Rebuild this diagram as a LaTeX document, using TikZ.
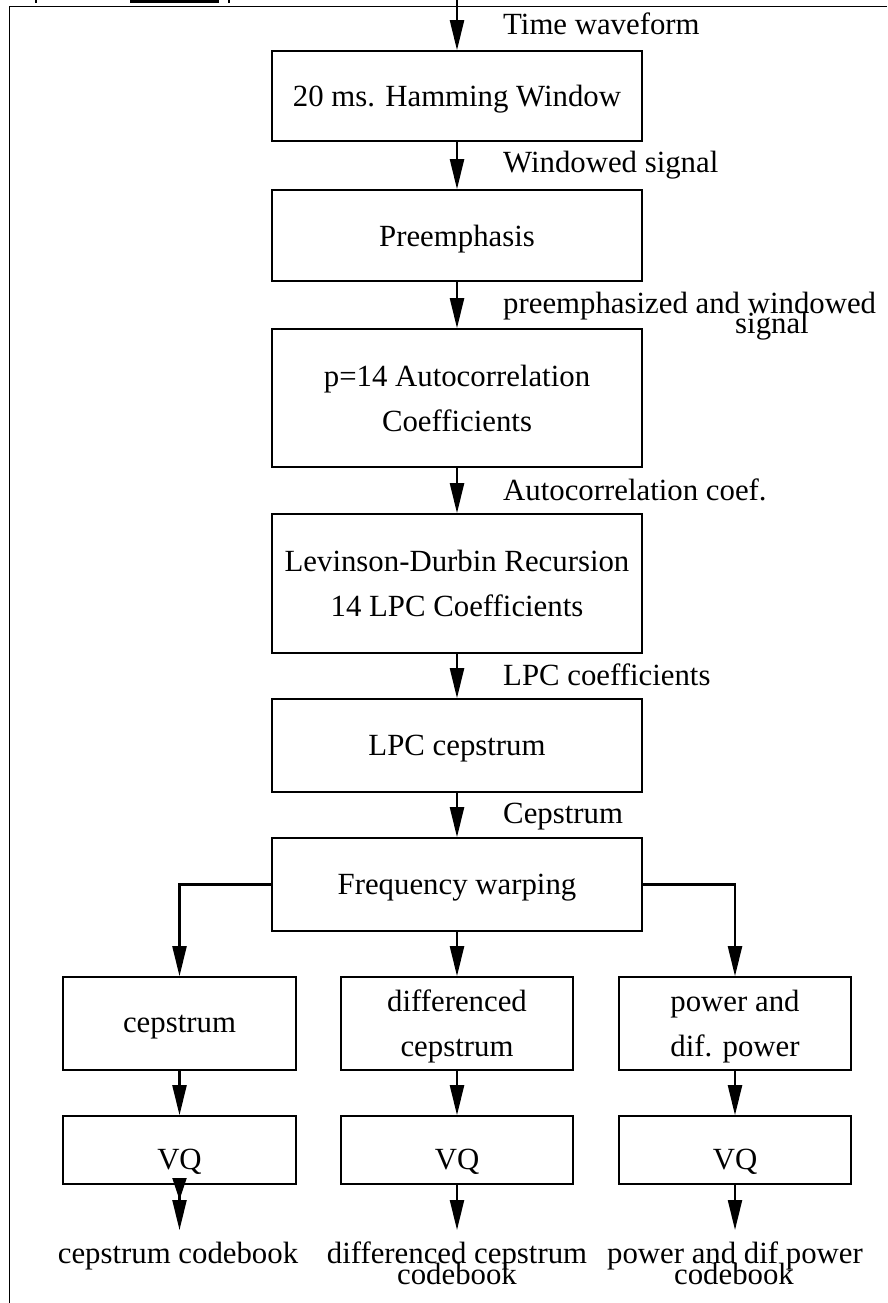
\documentclass[tikz,border=0pt]{standalone}
\usepackage{fontspec}
\setmainfont{Liberation Serif}
\usetikzlibrary{arrows.meta}

\tikzset{
  base font/.style={font=\fontsize{30.8}{45}\selectfont},
  stage/.style={draw, line width=1.6pt, inner sep=0pt, align=center,
                base font, text depth=0pt, minimum width=370pt},
  subbox/.style={draw, line width=1.6pt, inner sep=0pt, align=center,
                 base font, text depth=0pt, minimum width=232pt},
  lbl/.style={inner sep=0pt, base font},
  flow/.style={line width=2.2pt, -{Triangle[length=30pt,width=14pt]}},
  dflow/.style={line width=2.2pt,
    -{Triangle[length=22pt,width=14pt,sep=0pt]Triangle[length=30pt,width=14pt]}},
  frame/.style={line width=1.6pt}
}

\begin{document}
\begin{tikzpicture}[x=1pt,y=-1pt]
\useasboundingbox (0,0) rectangle (887,1303);

% page frame and header marks
\draw[frame] (887,6.5) -- (9.5,6.5) -- (9.5,1303);
\fill (130,0) rectangle (219,3);
\draw[line width=1.4pt] (36,0) -- (36,3) (229,0) -- (229,3);

% main chain
\node[stage, minimum height=90pt] (b1) at (457,96)    {20 ms. Hamming Window};
\node[stage, minimum height=91pt] (b2) at (457,235.5) {Preemphasis};
\node[stage, minimum height=138pt] (b3) at (457,398)  {p=14 Autocorrelation\\Coefficients};
\node[stage, minimum height=139pt] (b4) at (457,583.5) {Levinson-Durbin Recursion\\14 LPC Coefficients};
\node[stage, minimum height=93pt] (b5) at (457,745.5) {LPC cepstrum};
\node[stage, minimum height=93pt] (b6) at (457,884.5) {Frequency warping};

% three branches
\node[subbox, minimum height=93pt, minimum width=233pt] (c1) at (179.5,1023.5) {cepstrum};
\node[subbox, minimum height=93pt] (c2) at (457,1023.5) {differenced\\cepstrum};
\node[subbox, minimum height=93pt] (c3) at (735,1023.5) {power and\\dif. power};

\node[subbox, minimum height=68pt, minimum width=233pt] (v1) at (179.5,1150) {};
\node[subbox, minimum height=68pt] (v2) at (457,1150) {};
\node[subbox, minimum height=68pt] (v3) at (735,1150) {};
\node[lbl, anchor=base] (q1) at (179.5,1169) {VQ};
\node[lbl, anchor=base] (q2) at (457,1169) {VQ};
\node[lbl, anchor=base] (q3) at (735,1169) {VQ};

% arrow end points
\coordinate (in) at (457,0);
\coordinate (o1) at (179.5,1230);
\coordinate (o2) at (457,1230);
\coordinate (o3) at (735,1230);

% signal labels
\node[lbl, anchor=base west] (l1) at (503,35)  {Time waveform};
\node[lbl, anchor=base west] (l2) at (503,172) {Windowed signal};
\node[lbl, anchor=base west] (l3) at (503,313) {preemphasized and windowed};
\node[lbl, anchor=base] (l3b) at (772,333) {signal};
\node[lbl, anchor=base west] (l4) at (503,500) {Autocorrelation coef.};
\node[lbl, anchor=base west] (l5) at (503,685) {LPC coefficients};
\node[lbl, anchor=base west] (l6) at (503,823) {Cepstrum};

% output labels
\node[lbl, anchor=base] (r1) at (178,1263) {cepstrum codebook};
\node[lbl, anchor=base] (r2) at (457,1263) {differenced cepstrum};
\node[lbl, anchor=base] (r2b) at (457,1284) {codebook};
\node[lbl, anchor=base] (r3) at (735,1263) {power and dif power};
\node[lbl, anchor=base] (r3b) at (734,1284) {codebook};

% connectors
\draw[flow] (in) -- (b1);
\draw[flow] (b1) -- (b2);
\draw[flow] (b2) -- (b3);
\draw[flow] (b3) -- (b4);
\draw[flow] (b4) -- (b5);
\draw[flow] (b5) -- (b6);
\draw[flow] (b6.west) -| (c1.north);
\draw[flow] (b6) -- (c2);
\draw[flow] (b6.east) -| (c3.north);
\draw[flow] (c1) -- (v1);
\draw[flow] (c2) -- (v2);
\draw[flow] (c3) -- (v3);
\draw[dflow] (v1.south) -- (o1);
\draw[flow] (v2.south) -- (o2);
\draw[flow] (v3.south) -- (o3);
\end{tikzpicture}
\end{document}
